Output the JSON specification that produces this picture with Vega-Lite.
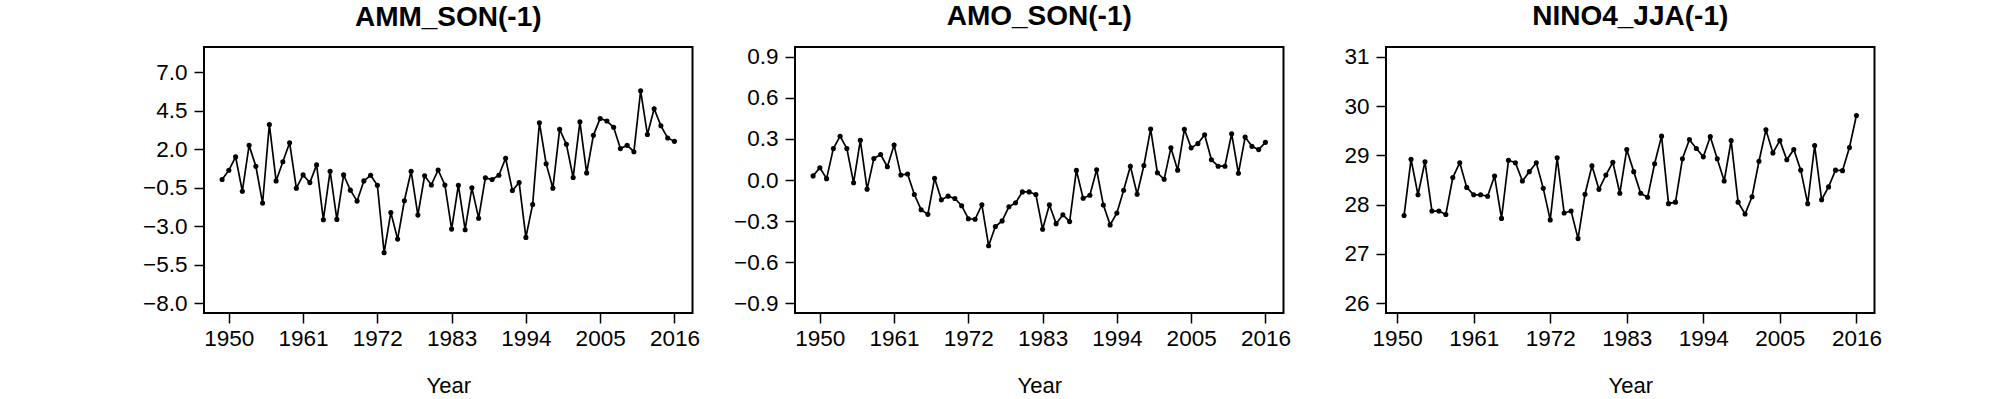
{
  "$schema": "https://vega.github.io/schema/vega-lite/v6.json",
  "padding": {"left": 141, "top": 1, "right": 5, "bottom": 0},
  "bounds": "flush",
  "spacing": 102,
  "datasets": {
    "amm": [
      {"Year": 1949, "v": 0.03}, {"Year": 1950, "v": 0.63}, {"Year": 1951, "v": 1.50}, {"Year": 1952, "v": -0.73},
      {"Year": 1953, "v": 2.25}, {"Year": 1954, "v": 0.89}, {"Year": 1955, "v": -1.50}, {"Year": 1956, "v": 3.61},
      {"Year": 1957, "v": -0.06}, {"Year": 1958, "v": 1.19}, {"Year": 1959, "v": 2.42}, {"Year": 1960, "v": -0.53},
      {"Year": 1961, "v": 0.33}, {"Year": 1962, "v": -0.17}, {"Year": 1963, "v": 0.98}, {"Year": 1964, "v": -2.58},
      {"Year": 1965, "v": 0.57}, {"Year": 1966, "v": -2.56}, {"Year": 1967, "v": 0.33}, {"Year": 1968, "v": -0.66},
      {"Year": 1969, "v": -1.37}, {"Year": 1970, "v": -0.06}, {"Year": 1971, "v": 0.31}, {"Year": 1972, "v": -0.34},
      {"Year": 1973, "v": -4.72}, {"Year": 1974, "v": -2.11}, {"Year": 1975, "v": -3.84}, {"Year": 1976, "v": -1.35},
      {"Year": 1977, "v": 0.57}, {"Year": 1978, "v": -2.28}, {"Year": 1979, "v": 0.27}, {"Year": 1980, "v": -0.32},
      {"Year": 1981, "v": 0.65}, {"Year": 1982, "v": -0.32}, {"Year": 1983, "v": -3.19}, {"Year": 1984, "v": -0.34},
      {"Year": 1985, "v": -3.23}, {"Year": 1986, "v": -0.51}, {"Year": 1987, "v": -2.48}, {"Year": 1988, "v": 0.14},
      {"Year": 1989, "v": 0.03}, {"Year": 1990, "v": 0.31}, {"Year": 1991, "v": 1.41}, {"Year": 1992, "v": -0.68},
      {"Year": 1993, "v": -0.17}, {"Year": 1994, "v": -3.73}, {"Year": 1995, "v": -1.59}, {"Year": 1996, "v": 3.72},
      {"Year": 1997, "v": 1.06}, {"Year": 1998, "v": -0.53}, {"Year": 1999, "v": 3.29}, {"Year": 2000, "v": 2.32},
      {"Year": 2001, "v": 0.16}, {"Year": 2002, "v": 3.78}, {"Year": 2003, "v": 0.46}, {"Year": 2004, "v": 2.90},
      {"Year": 2005, "v": 4.00}, {"Year": 2006, "v": 3.83}, {"Year": 2007, "v": 3.42}, {"Year": 2008, "v": 2.04},
      {"Year": 2009, "v": 2.25}, {"Year": 2010, "v": 1.84}, {"Year": 2011, "v": 5.79}, {"Year": 2012, "v": 2.96},
      {"Year": 2013, "v": 4.63}, {"Year": 2014, "v": 3.52}, {"Year": 2015, "v": 2.73}, {"Year": 2016, "v": 2.51}
    ],
    "amo": [
      {"Year": 1949, "v": 0.03}, {"Year": 1950, "v": 0.09}, {"Year": 1951, "v": 0.01}, {"Year": 1952, "v": 0.23},
      {"Year": 1953, "v": 0.32}, {"Year": 1954, "v": 0.23}, {"Year": 1955, "v": -0.02}, {"Year": 1956, "v": 0.29},
      {"Year": 1957, "v": -0.067}, {"Year": 1958, "v": 0.157}, {"Year": 1959, "v": 0.186}, {"Year": 1960, "v": 0.097},
      {"Year": 1961, "v": 0.256}, {"Year": 1962, "v": 0.036}, {"Year": 1963, "v": 0.044}, {"Year": 1964, "v": -0.106},
      {"Year": 1965, "v": -0.217}, {"Year": 1966, "v": -0.251}, {"Year": 1967, "v": 0.012}, {"Year": 1968, "v": -0.145},
      {"Year": 1969, "v": -0.118}, {"Year": 1970, "v": -0.135}, {"Year": 1971, "v": -0.188}, {"Year": 1972, "v": -0.283},
      {"Year": 1973, "v": -0.287}, {"Year": 1974, "v": -0.181}, {"Year": 1975, "v": -0.480}, {"Year": 1976, "v": -0.340},
      {"Year": 1977, "v": -0.299}, {"Year": 1978, "v": -0.196}, {"Year": 1979, "v": -0.167}, {"Year": 1980, "v": -0.087},
      {"Year": 1981, "v": -0.087}, {"Year": 1982, "v": -0.106}, {"Year": 1983, "v": -0.360}, {"Year": 1984, "v": -0.181},
      {"Year": 1985, "v": -0.319}, {"Year": 1986, "v": -0.254}, {"Year": 1987, "v": -0.304}, {"Year": 1988, "v": 0.070},
      {"Year": 1989, "v": -0.133}, {"Year": 1990, "v": -0.111}, {"Year": 1991, "v": 0.075}, {"Year": 1992, "v": -0.183},
      {"Year": 1993, "v": -0.328}, {"Year": 1994, "v": -0.241}, {"Year": 1995, "v": -0.075}, {"Year": 1996, "v": 0.101},
      {"Year": 1997, "v": -0.104}, {"Year": 1998, "v": 0.106}, {"Year": 1999, "v": 0.372}, {"Year": 2000, "v": 0.053},
      {"Year": 2001, "v": 0.005}, {"Year": 2002, "v": 0.235}, {"Year": 2003, "v": 0.072}, {"Year": 2004, "v": 0.370},
      {"Year": 2005, "v": 0.235}, {"Year": 2006, "v": 0.266}, {"Year": 2007, "v": 0.331}, {"Year": 2008, "v": 0.148},
      {"Year": 2009, "v": 0.101}, {"Year": 2010, "v": 0.101}, {"Year": 2011, "v": 0.338}, {"Year": 2012, "v": 0.049},
      {"Year": 2013, "v": 0.314}, {"Year": 2014, "v": 0.246}, {"Year": 2015, "v": 0.222}, {"Year": 2016, "v": 0.275}
    ],
    "nino": [
      {"Year": 1951, "v": 27.78}, {"Year": 1952, "v": 28.92}, {"Year": 1953, "v": 28.20}, {"Year": 1954, "v": 28.87},
      {"Year": 1955, "v": 27.87}, {"Year": 1956, "v": 27.87}, {"Year": 1957, "v": 27.80}, {"Year": 1958, "v": 28.55},
      {"Year": 1959, "v": 28.85}, {"Year": 1960, "v": 28.35}, {"Year": 1961, "v": 28.20}, {"Year": 1962, "v": 28.20},
      {"Year": 1963, "v": 28.17}, {"Year": 1964, "v": 28.58}, {"Year": 1965, "v": 27.72}, {"Year": 1966, "v": 28.90},
      {"Year": 1967, "v": 28.85}, {"Year": 1968, "v": 28.48}, {"Year": 1969, "v": 28.67}, {"Year": 1970, "v": 28.85},
      {"Year": 1971, "v": 28.33}, {"Year": 1972, "v": 27.69}, {"Year": 1973, "v": 28.95}, {"Year": 1974, "v": 27.83},
      {"Year": 1975, "v": 27.87}, {"Year": 1976, "v": 27.31}, {"Year": 1977, "v": 28.21}, {"Year": 1978, "v": 28.79},
      {"Year": 1979, "v": 28.31}, {"Year": 1980, "v": 28.60}, {"Year": 1981, "v": 28.86}, {"Year": 1982, "v": 28.23},
      {"Year": 1983, "v": 29.12}, {"Year": 1984, "v": 28.67}, {"Year": 1985, "v": 28.23}, {"Year": 1986, "v": 28.15},
      {"Year": 1987, "v": 28.83}, {"Year": 1988, "v": 29.39}, {"Year": 1989, "v": 28.02}, {"Year": 1990, "v": 28.05},
      {"Year": 1991, "v": 28.93}, {"Year": 1992, "v": 29.32}, {"Year": 1993, "v": 29.14}, {"Year": 1994, "v": 28.97},
      {"Year": 1995, "v": 29.38}, {"Year": 1996, "v": 28.93}, {"Year": 1997, "v": 28.48}, {"Year": 1998, "v": 29.30},
      {"Year": 1999, "v": 28.05}, {"Year": 2000, "v": 27.81}, {"Year": 2001, "v": 28.16}, {"Year": 2002, "v": 28.88},
      {"Year": 2003, "v": 29.52}, {"Year": 2004, "v": 29.05}, {"Year": 2005, "v": 29.30}, {"Year": 2006, "v": 28.91},
      {"Year": 2007, "v": 29.12}, {"Year": 2008, "v": 28.70}, {"Year": 2009, "v": 28.02}, {"Year": 2010, "v": 29.20},
      {"Year": 2011, "v": 28.10}, {"Year": 2012, "v": 28.36}, {"Year": 2013, "v": 28.70}, {"Year": 2014, "v": 28.69},
      {"Year": 2015, "v": 29.16}, {"Year": 2016, "v": 29.81}
    ]
  },
  "hconcat": [
    {
      "width": 488.5, "height": 266,
      "data": {"name": "amm"},
      "title": {"text": "AMM_SON(-1)"},
      "mark": {"type": "line", "color": "black", "strokeWidth": 1.7, "point": {"filled": true, "size": 26, "color": "black"}},
      "encoding": {
        "x": {"field": "Year", "type": "quantitative", "scale": {"domain": [1946.32, 2018.68], "nice": false, "zero": false},
              "axis": {"values": [1950, 1961, 1972, 1983, 1994, 2005, 2016], "format": "d", "title": "Year"}},
        "y": {"field": "v", "type": "quantitative", "scale": {"domain": [-8.64, 8.64], "nice": false, "zero": false},
              "axis": {"values": [-8, -5.5, -3, -0.5, 2, 4.5, 7], "format": ".1f", "title": null}}
      }
    },
    {
      "width": 488.5, "height": 266,
      "data": {"name": "amo"},
      "title": {"text": "AMO_SON(-1)"},
      "mark": {"type": "line", "color": "black", "strokeWidth": 1.7, "point": {"filled": true, "size": 26, "color": "black"}},
      "encoding": {
        "x": {"field": "Year", "type": "quantitative", "scale": {"domain": [1946.32, 2018.68], "nice": false, "zero": false},
              "axis": {"values": [1950, 1961, 1972, 1983, 1994, 2005, 2016], "format": "d", "title": "Year"}},
        "y": {"field": "v", "type": "quantitative", "scale": {"domain": [-0.972, 0.972], "nice": false, "zero": false},
              "axis": {"values": [-0.9, -0.6, -0.3, 0, 0.3, 0.6, 0.9], "format": ".1f", "title": null}}
      }
    },
    {
      "width": 488.5, "height": 266,
      "data": {"name": "nino"},
      "title": {"text": "NINO4_JJA(-1)"},
      "mark": {"type": "line", "color": "black", "strokeWidth": 1.7, "point": {"filled": true, "size": 26, "color": "black"}},
      "encoding": {
        "x": {"field": "Year", "type": "quantitative", "scale": {"domain": [1948.4, 2018.6], "nice": false, "zero": false},
              "axis": {"values": [1950, 1961, 1972, 1983, 1994, 2005, 2016], "format": "d", "title": "Year"}},
        "y": {"field": "v", "type": "quantitative", "scale": {"domain": [25.8, 31.2], "nice": false, "zero": false},
              "axis": {"values": [26, 27, 28, 29, 30, 31], "format": "d", "title": null}}
      }
    }
  ],
  "resolve": {"scale": {"x": "independent", "y": "independent"}},
  "config": {
    "background": "white",
    "view": {"stroke": "black", "strokeWidth": 2},
    "font": "Liberation Sans",
    "title": {"font": "Liberation Sans", "fontSize": 28, "fontWeight": "bold", "color": "black", "anchor": "middle", "frame": "group", "baseline": "alphabetic", "offset": 15},
    "axis": {
      "domain": false, "grid": false, "tickColor": "black", "tickSize": 10, "tickWidth": 1.5,
      "labelFont": "Liberation Sans", "labelFontSize": 22.5, "labelColor": "black", "labelOverlap": false, "labelFlush": false,
      "titleFont": "Liberation Sans", "titleFontSize": 22, "titleFontWeight": "normal", "titleColor": "black"
    },
    "axisX": {"labelPadding": 4, "titlePadding": 26},
    "axisY": {"labelPadding": 7}
  }
}
